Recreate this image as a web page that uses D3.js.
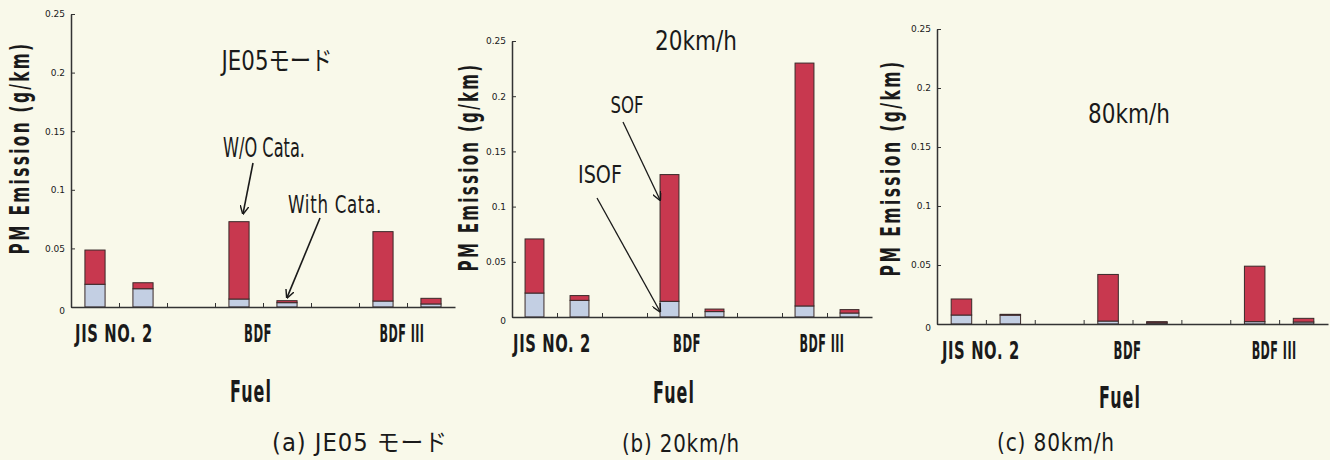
<!DOCTYPE html>
<html>
<head>
<meta charset="utf-8">
<script src="https://cdn.jsdelivr.net/npm/d3@7"></script>
<style>
  html, body { margin: 0; padding: 0; background: #f9f9ea; }
  svg text { font-family: "DejaVu Sans", "Noto Sans CJK JP", sans-serif; fill: #1a1a1a; }
</style>
</head>
<body>
<div id="chart"></div>
<script>
// ---- data (g/km), order: JIS W/O, JIS With, BDF W/O, BDF With, BDFIII W/O, BDFIII With
const fuels = ["JIS NO. 2", "BDF", "BDF III"];
const catalyst = ["W/O Cata.", "With Cata."];
const titles = ["JE05モード", "20km/h", "80km/h"];
const captions = ["(a) JE05 モード", "(b) 20km/h", "(c) 80km/h"];
const yTicks = [0, 0.05, 0.1, 0.15, 0.2, 0.25];

const isofJE05 = [0.0194, 0.0156, 0.0068, 0.0037, 0.0051, 0.0026];
const sofJE05  = [0.0292, 0.0051, 0.0660, 0.0017, 0.0592, 0.0048];
const isof20   = [0.0217, 0.0151, 0.0142, 0.0049, 0.0100, 0.0036];
const sof20    = [0.0490, 0.0043, 0.1148, 0.0023, 0.2200, 0.0031];
const isof80   = [0.0076, 0.0075, 0.0025, 0.0010, 0.0020, 0.0017];
const sof80    = [0.0136, 0.0007, 0.0395, 0.0010, 0.0470, 0.0031];

const isofData = [isofJE05, isof20, isof80];
const sofData = [sofJE05, sof20, sof80];

// slot of each bar on the 8-slot x axis (gaps between fuels)
const barSlots = [0, 1, 3, 4, 6, 7];

// ---- layout
const W = 1330, H = 460;
const panels = [
  {x0: 71,  x1: 455,  y0: 307, yTop: 14, ylab: [29, 148, 213],
   title: [277, 70, 111], fuelY: 402, fuelX: 251, cap: [360, 451, 176]},
  {x0: 512, x1: 872,  y0: 317, yTop: 41, ylab: [478, 167, 209],
   title: [696, 50, 82],  fuelY: 403, fuelX: 674, cap: [681, 452, 118]},
  {x0: 937, x1: 1328, y0: 324, yTop: 29, ylab: [900, 168, 217],
   title: [1129, 123, 82], fuelY: 408, fuelX: 1120, cap: [1056, 451, 118]}
];
const catWidths = [78, 28, 45];
const colorISOF = "#c3cfe3", colorSOF = "#c8384f", barStroke = "#3a2a2a";

const svg = d3.select("#chart").append("svg")
  .attr("width", W).attr("height", H);

svg.append("defs").append("marker")
  .attr("id", "vhead")
  .attr("viewBox", "0 0 10 10")
  .attr("refX", 9).attr("refY", 5)
  .attr("markerWidth", 9).attr("markerHeight", 9)
  .attr("markerUnits", "userSpaceOnUse")
  .attr("orient", "auto")
  .append("path")
  .attr("d", "M0,0 L10,5 L0,10")
  .attr("fill", "none").attr("stroke", "#1a1a1a").attr("stroke-width", 1.6);

// condensed text helper: squeeze horizontally to the target width
function label(g, s, x, y, size, width, opts = {}) {
  const t = g.append("text")
    .attr("text-anchor", opts.anchor || "middle")
    .style("font-size", size + "px")
    .style("font-weight", opts.weight || "normal")
    .style("letter-spacing", (opts.ls || 0) + "px")
    .text(s);
  const natural = t.node().getComputedTextLength() || width;
  const sx = width ? width / natural : 1;
  t.attr("transform", `translate(${x},${y}) rotate(${opts.rot || 0}) scale(${sx},1)`);
  return t;
}

const fmt = d => d === 0 ? "0" : d3.format("~g")(d);

panels.forEach((p, pi) => {
  const g = svg.append("g").attr("class", "panel");

  const y = d3.scaleLinear().domain([0, 0.25]).range([p.y0, p.yTop]);
  const x = d3.scaleBand().domain(d3.range(8)).range([p.x0, p.x1])
    .paddingInner(0.58).paddingOuter(0.29);
  const slot = d3.scaleLinear().domain([0, 8]).range([p.x0, p.x1]);

  // y axis
  const ya = g.append("g").attr("transform", `translate(${p.x0},0)`)
    .call(d3.axisLeft(y).tickValues(yTicks).tickFormat(fmt)
      .tickSizeInner(-4).tickSizeOuter(0).tickPadding(6));
  ya.select(".domain").attr("stroke", "#333").attr("stroke-width", 1.5);
  ya.selectAll(".tick line").attr("stroke", "#333");
  ya.selectAll(".tick text").style("font-size", "9px").attr("fill", "#333")
    .attr("dy", d => d === 0 ? "0.7em" : "0.32em");

  // bars
  const bars = barSlots.map((s, i) => ({slot: s, isof: isofData[pi][i], sof: sofData[pi][i]}));
  const bg = g.selectAll(".barG").data(bars).join("g").attr("class", "barG");
  bg.append("rect")
    .attr("x", d => x(d.slot)).attr("width", x.bandwidth())
    .attr("y", d => y(d.isof)).attr("height", d => y(0) - y(d.isof))
    .attr("fill", colorISOF).attr("stroke", barStroke).attr("stroke-width", 1);
  bg.append("rect")
    .attr("x", d => x(d.slot)).attr("width", x.bandwidth())
    .attr("y", d => y(d.isof + d.sof)).attr("height", d => y(d.isof) - y(d.isof + d.sof))
    .attr("fill", colorSOF).attr("stroke", barStroke).attr("stroke-width", 1);

  // x axis with inward ticks at slot boundaries
  const xa = g.append("g").attr("transform", `translate(0,${p.y0})`)
    .call(d3.axisBottom(slot).tickValues(d3.range(1, 8)).tickFormat("")
      .tickSizeInner(-4).tickSizeOuter(0));
  xa.select(".domain").attr("stroke", "#333").attr("stroke-width", 1.6);
  xa.selectAll(".tick line").attr("stroke", "#333");

  // fuel category labels
  fuels.forEach((f, fi) => {
    label(g, f, slot(fi * 3 + 1) - 5, p.y0 + 35, 24, catWidths[fi], {weight: "bold", ls: 1});
  });

  label(g, "Fuel", p.fuelX, p.fuelY, 30, 42, {weight: "bold", ls: 2});
  label(g, "PM Emission (g/km)", p.ylab[0], p.ylab[1], 26, p.ylab[2], {rot: -90, weight: "bold", ls: 4});
  label(g, titles[pi], p.title[0], p.title[1], 26, p.title[2]);
  label(g, captions[pi], p.cap[0], p.cap[1], 24, p.cap[2], {ls: 1});

  // annotations
  if (pi === 0) {
    const b3 = bars[2], b4 = bars[3];
    const cx3 = x(b3.slot) + x.bandwidth() / 2, cx4 = x(b4.slot) + x.bandwidth() / 2;
    label(g, catalyst[0], 264, 157, 26, 82);
    g.append("line").attr("x1", 253).attr("y1", 163)
      .attr("x2", cx3 + 4).attr("y2", y(b3.isof + b3.sof) - 8)
      .attr("stroke", "#1a1a1a").attr("stroke-width", 1.6).attr("marker-end", "url(#vhead)");
    label(g, catalyst[1], 335, 213, 24, 94, {ls: 1});
    g.append("line").attr("x1", 320).attr("y1", 218)
      .attr("x2", cx4).attr("y2", y(b4.isof + b4.sof) - 3)
      .attr("stroke", "#1a1a1a").attr("stroke-width", 1.6).attr("marker-end", "url(#vhead)");
  }
  if (pi === 1) {
    const b3 = bars[2];
    const left = x(b3.slot);
    label(g, "SOF", 627, 113, 23, 33);
    g.append("line").attr("x1", 623).attr("y1", 122)
      .attr("x2", left).attr("y2", y(b3.isof + b3.sof * 0.8))
      .attr("stroke", "#1a1a1a").attr("stroke-width", 1.3).attr("marker-end", "url(#vhead)");
    label(g, "ISOF", 600, 183, 25, 44);
    g.append("line").attr("x1", 597).attr("y1", 198)
      .attr("x2", left).attr("y2", y(b3.isof * 0.35))
      .attr("stroke", "#1a1a1a").attr("stroke-width", 1.3).attr("marker-end", "url(#vhead)");
  }
});
</script>
</body>
</html>
